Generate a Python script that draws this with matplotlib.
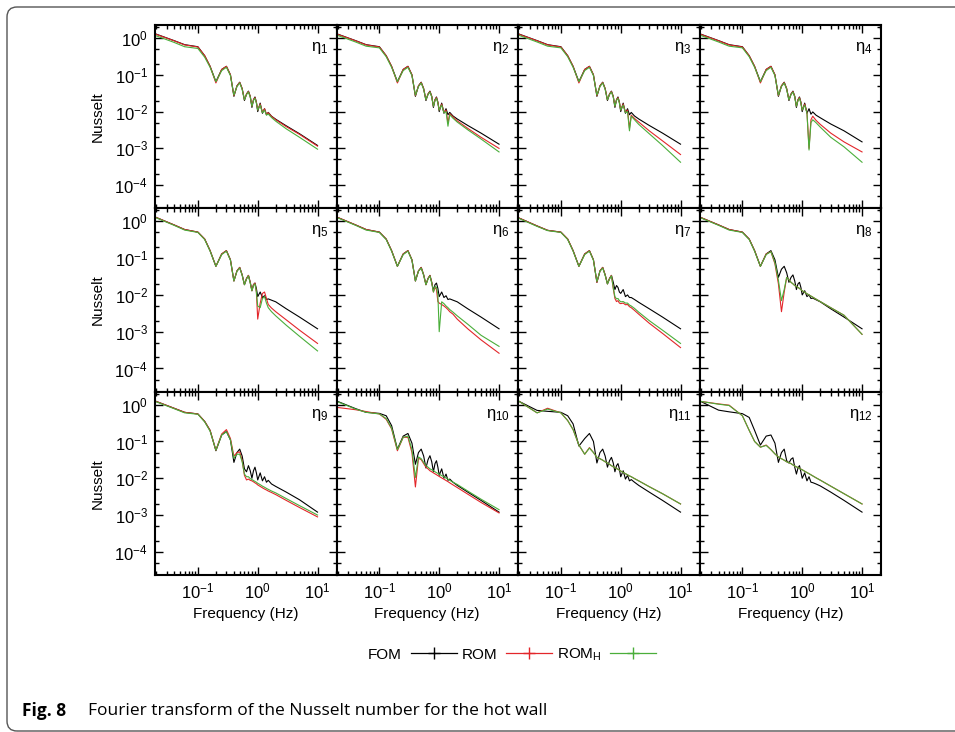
import numpy as np
import matplotlib.pyplot as plt
from matplotlib.lines import Line2D
from matplotlib.patches import FancyBboxPatch
from matplotlib.ticker import LogLocator, NullFormatter
import matplotlib.transforms as mtransforms

plt.rcParams['font.family'] = ['Liberation Sans', 'DejaVu Sans']
plt.rcParams['mathtext.fontset'] = 'custom'
plt.rcParams['mathtext.rm'] = 'Liberation Sans'
plt.rcParams['mathtext.it'] = 'Liberation Sans:italic'
plt.rcParams['axes.unicode_minus'] = False

# frequency grid (Hz) shared by every curve
freq = [0.02, 0.04, 0.06, 0.1, 0.13, 0.16, 0.2, 0.25, 0.3, 0.35, 0.4, 0.45, 0.5, 0.55,
        0.6, 0.65, 0.7, 0.75, 0.8, 0.85, 0.9, 0.95, 1.0, 1.1, 1.2, 1.3, 1.4, 1.5, 1.7,
        2.0, 3.0, 5.0, 10.0]

# row 1
fom_1 = [1.28, 0.85, 0.66, 0.58, 0.33, 0.17, 0.065, 0.14, 0.17, 0.10, 0.026, 0.05, 0.063, 0.042,
         0.02, 0.03, 0.036, 0.026, 0.013, 0.021, 0.025, 0.018, 0.010, 0.017, 0.009, 0.012, 0.0082, 0.0095, 0.0075,
         0.0062, 0.0041, 0.0025, 0.0012]
rom_1 = [1.26, 0.84, 0.65, 0.57, 0.33, 0.17, 0.06, 0.14, 0.17, 0.10, 0.027, 0.05, 0.062, 0.042,
         0.021, 0.03, 0.035, 0.026, 0.014, 0.021, 0.024, 0.018, 0.011, 0.016, 0.0095, 0.012, 0.0085, 0.0093, 0.0074,
         0.006, 0.0039, 0.0024, 0.00115]
romh_1 = [1.15, 0.76, 0.58, 0.52, 0.30, 0.16, 0.065, 0.13, 0.16, 0.095, 0.028, 0.048, 0.06, 0.04,
          0.021, 0.029, 0.034, 0.025, 0.014, 0.02, 0.023, 0.017, 0.011, 0.015, 0.0093, 0.011, 0.008, 0.0086, 0.0069,
          0.0055, 0.0034, 0.002, 0.00095]

fom_2 = [1.28, 0.85, 0.66, 0.58, 0.33, 0.17, 0.065, 0.14, 0.17, 0.10, 0.026, 0.05, 0.063, 0.042,
         0.02, 0.03, 0.036, 0.026, 0.013, 0.021, 0.025, 0.018, 0.010, 0.017, 0.009, 0.012, 0.0082, 0.0095, 0.0076,
         0.0063, 0.0042, 0.0026, 0.0013]
rom_2 = [1.26, 0.84, 0.65, 0.57, 0.33, 0.17, 0.06, 0.14, 0.17, 0.10, 0.027, 0.05, 0.062, 0.042,
         0.021, 0.03, 0.035, 0.026, 0.014, 0.021, 0.024, 0.018, 0.011, 0.016, 0.0095, 0.011, 0.005, 0.0088, 0.0072,
         0.0056, 0.0035, 0.002, 0.001]
romh_2 = [1.18, 0.78, 0.6, 0.54, 0.31, 0.16, 0.065, 0.13, 0.16, 0.095, 0.028, 0.048, 0.06, 0.04,
          0.021, 0.029, 0.034, 0.025, 0.014, 0.02, 0.023, 0.017, 0.011, 0.015, 0.0093, 0.01, 0.004, 0.0082, 0.0066,
          0.0052, 0.0032, 0.0018, 0.0008]

fom_3 = [1.28, 0.85, 0.66, 0.58, 0.33, 0.17, 0.065, 0.14, 0.17, 0.10, 0.026, 0.05, 0.063, 0.042,
         0.02, 0.03, 0.036, 0.026, 0.013, 0.021, 0.025, 0.018, 0.010, 0.017, 0.009, 0.012, 0.0082, 0.0095, 0.0076,
         0.0063, 0.0042, 0.0026, 0.0013]
rom_3 = [1.26, 0.84, 0.65, 0.57, 0.33, 0.17, 0.06, 0.14, 0.17, 0.10, 0.027, 0.05, 0.062, 0.042,
         0.021, 0.03, 0.035, 0.026, 0.014, 0.021, 0.024, 0.018, 0.011, 0.016, 0.0095, 0.011, 0.0035, 0.008, 0.0065,
         0.0052, 0.003, 0.0016, 0.00068]
romh_3 = [1.18, 0.78, 0.6, 0.54, 0.31, 0.16, 0.065, 0.13, 0.16, 0.095, 0.028, 0.048, 0.06, 0.04,
          0.021, 0.029, 0.034, 0.025, 0.014, 0.02, 0.023, 0.017, 0.011, 0.015, 0.0093, 0.01, 0.003, 0.0075, 0.006,
          0.0045, 0.0025, 0.0012, 0.00042]

fom_4 = [1.28, 0.85, 0.66, 0.58, 0.33, 0.17, 0.065, 0.14, 0.17, 0.10, 0.026, 0.05, 0.063, 0.042,
         0.02, 0.03, 0.036, 0.026, 0.013, 0.021, 0.025, 0.018, 0.010, 0.017, 0.009, 0.012, 0.0085, 0.0098, 0.008,
         0.0068, 0.0046, 0.003, 0.0015]
rom_4 = [1.26, 0.84, 0.65, 0.57, 0.33, 0.17, 0.06, 0.14, 0.17, 0.10, 0.027, 0.05, 0.062, 0.042,
         0.021, 0.03, 0.035, 0.026, 0.014, 0.021, 0.024, 0.018, 0.011, 0.016, 0.0095, 0.001, 0.006, 0.0075, 0.0058,
         0.0045, 0.0026, 0.0015, 0.0008]
romh_4 = [1.18, 0.78, 0.6, 0.54, 0.31, 0.16, 0.065, 0.13, 0.16, 0.095, 0.028, 0.048, 0.06, 0.04,
          0.021, 0.029, 0.034, 0.025, 0.014, 0.02, 0.023, 0.017, 0.011, 0.015, 0.0093, 0.0009, 0.005, 0.006, 0.005,
          0.0038, 0.002, 0.0011, 0.00042]

# row 2
fom_5 = [1.28, 0.8, 0.6, 0.51, 0.33, 0.16, 0.06, 0.13, 0.16, 0.09, 0.024, 0.045, 0.056, 0.035,
         0.019, 0.028, 0.034, 0.022, 0.013, 0.019, 0.021, 0.015, 0.009, 0.012, 0.0085, 0.0095, 0.0075, 0.0078, 0.0072,
         0.0065, 0.0042, 0.0025, 0.0012]
rom_5 = [1.28, 0.8, 0.6, 0.51, 0.33, 0.16, 0.06, 0.13, 0.16, 0.09, 0.024, 0.045, 0.056, 0.035,
         0.019, 0.028, 0.034, 0.022, 0.013, 0.019, 0.021, 0.012, 0.0022, 0.006, 0.011, 0.012, 0.008, 0.0055, 0.0044,
         0.0035, 0.0021, 0.0011, 0.00048]
romh_5 = [1.25, 0.78, 0.58, 0.5, 0.32, 0.155, 0.06, 0.125, 0.155, 0.088, 0.024, 0.044, 0.054, 0.034,
          0.019, 0.027, 0.033, 0.021, 0.013, 0.018, 0.02, 0.012, 0.005, 0.0045, 0.008, 0.009, 0.006, 0.0045, 0.0035,
          0.0027, 0.0015, 0.00075, 0.0003]

fom_6 = [1.28, 0.8, 0.6, 0.51, 0.33, 0.16, 0.06, 0.13, 0.16, 0.09, 0.024, 0.045, 0.056, 0.035,
         0.019, 0.028, 0.034, 0.022, 0.013, 0.019, 0.021, 0.015, 0.009, 0.012, 0.0085, 0.0095, 0.0075, 0.0078, 0.0072,
         0.0065, 0.0042, 0.0025, 0.0012]
rom_6 = [1.28, 0.8, 0.6, 0.51, 0.33, 0.16, 0.06, 0.13, 0.16, 0.09, 0.024, 0.045, 0.056, 0.035,
         0.019, 0.028, 0.034, 0.022, 0.012, 0.016, 0.014, 0.0066, 0.006, 0.0055, 0.005, 0.0045, 0.004, 0.0035, 0.003,
         0.0022, 0.0012, 0.0006, 0.00026]
romh_6 = [1.25, 0.78, 0.58, 0.5, 0.32, 0.155, 0.06, 0.125, 0.155, 0.088, 0.024, 0.044, 0.054, 0.034,
          0.019, 0.027, 0.033, 0.021, 0.012, 0.017, 0.016, 0.01, 0.001, 0.0065, 0.0058, 0.005, 0.0045, 0.004, 0.0034,
          0.0027, 0.0016, 0.0008, 0.0004]

fom_7 = [1.23, 0.75, 0.57, 0.51, 0.33, 0.16, 0.06, 0.13, 0.16, 0.09, 0.022, 0.045, 0.056, 0.035,
         0.02, 0.028, 0.034, 0.022, 0.014, 0.018, 0.016, 0.012, 0.011, 0.014, 0.009, 0.01, 0.0085, 0.0085, 0.0075,
         0.0063, 0.0042, 0.0025, 0.0012]
rom_7 = [1.23, 0.75, 0.57, 0.51, 0.33, 0.16, 0.06, 0.13, 0.16, 0.09, 0.022, 0.045, 0.056, 0.035,
         0.02, 0.028, 0.034, 0.015, 0.008, 0.0066, 0.007, 0.006, 0.0058, 0.006, 0.0054, 0.0055, 0.0048, 0.0045, 0.0038,
         0.003, 0.0017, 0.0009, 0.00037]
romh_7 = [1.2, 0.73, 0.56, 0.5, 0.32, 0.155, 0.06, 0.125, 0.155, 0.088, 0.023, 0.044, 0.054, 0.034,
          0.02, 0.027, 0.033, 0.016, 0.009, 0.0078, 0.008, 0.007, 0.0065, 0.0066, 0.006, 0.006, 0.0053, 0.005, 0.0043,
          0.0034, 0.002, 0.0011, 0.00048]

fom_8 = [1.28, 0.8, 0.6, 0.51, 0.33, 0.16, 0.06, 0.13, 0.16, 0.09, 0.03, 0.05, 0.06, 0.04,
         0.022, 0.03, 0.035, 0.024, 0.014, 0.02, 0.022, 0.016, 0.01, 0.013, 0.009, 0.01, 0.008, 0.0082, 0.0074,
         0.0065, 0.0042, 0.0025, 0.0012]
rom_8 = [1.28, 0.8, 0.6, 0.51, 0.33, 0.16, 0.06, 0.13, 0.15, 0.07, 0.02, 0.0035, 0.012, 0.03,
         0.026, 0.022, 0.02, 0.018, 0.017, 0.016, 0.015, 0.014, 0.013, 0.0118, 0.0108, 0.01, 0.0093, 0.0087, 0.0077,
         0.0066, 0.0045, 0.0028, 0.00085]
romh_8 = [1.25, 0.78, 0.58, 0.5, 0.32, 0.155, 0.06, 0.125, 0.15, 0.075, 0.025, 0.007, 0.014, 0.03,
          0.026, 0.022, 0.02, 0.018, 0.017, 0.016, 0.015, 0.014, 0.013, 0.0118, 0.0108, 0.01, 0.0093, 0.0087, 0.0077,
          0.0066, 0.0045, 0.0028, 0.00085]

# row 3
fom_9 = [1.23, 0.8, 0.62, 0.56, 0.35, 0.2, 0.056, 0.15, 0.187, 0.11, 0.027, 0.05, 0.062, 0.04,
         0.018, 0.015, 0.022, 0.016, 0.01, 0.016, 0.02, 0.014, 0.009, 0.014, 0.0085, 0.011, 0.0078, 0.0088, 0.007,
         0.006, 0.0042, 0.0026, 0.0012]
rom_9 = [1.23, 0.8, 0.62, 0.56, 0.35, 0.2, 0.058, 0.16, 0.21, 0.12, 0.04, 0.05, 0.052, 0.03,
         0.012, 0.009, 0.0095, 0.0088, 0.0085, 0.008, 0.0075, 0.0071, 0.0066, 0.006, 0.0055, 0.0051, 0.0048, 0.0045, 0.0041,
         0.0036, 0.0025, 0.0016, 0.00089]
romh_9 = [1.2, 0.78, 0.6, 0.55, 0.34, 0.19, 0.058, 0.15, 0.185, 0.11, 0.035, 0.045, 0.045, 0.028,
          0.013, 0.011, 0.011, 0.0098, 0.0092, 0.0087, 0.0082, 0.0078, 0.0073, 0.0067, 0.0061, 0.0057, 0.0053, 0.005, 0.0045,
          0.004, 0.0028, 0.0018, 0.001]

fom_10 = [1.23, 0.78, 0.62, 0.58, 0.5, 0.27, 0.062, 0.14, 0.165, 0.09, 0.024, 0.05, 0.062, 0.04,
          0.019, 0.032, 0.041, 0.028, 0.015, 0.025, 0.03, 0.02, 0.012, 0.018, 0.01, 0.013, 0.0088, 0.0095, 0.0078,
          0.0064, 0.0042, 0.0025, 0.0012]
rom_10 = [0.84, 0.73, 0.65, 0.56, 0.4, 0.22, 0.056, 0.13, 0.13, 0.05, 0.0058, 0.035, 0.032, 0.025,
          0.02, 0.018, 0.016, 0.015, 0.014, 0.0132, 0.0125, 0.0118, 0.0112, 0.0102, 0.0094, 0.0087, 0.0081, 0.0075, 0.0066,
          0.0056, 0.0037, 0.0022, 0.00114]
romh_10 = [1.2, 0.76, 0.62, 0.56, 0.42, 0.23, 0.06, 0.13, 0.14, 0.06, 0.0105, 0.038, 0.034, 0.027,
           0.022, 0.02, 0.018, 0.017, 0.016, 0.015, 0.0142, 0.0135, 0.013, 0.0118, 0.011, 0.0101, 0.0095, 0.0088, 0.0078,
           0.0068, 0.0045, 0.0027, 0.0014]

fom_11 = [1.23, 0.7, 0.66, 0.62, 0.5, 0.3, 0.075, 0.12, 0.165, 0.1, 0.026, 0.05, 0.062, 0.04,
          0.02, 0.03, 0.037, 0.026, 0.015, 0.022, 0.025, 0.018, 0.011, 0.016, 0.0095, 0.012, 0.0085, 0.0092, 0.0078,
          0.0064, 0.0042, 0.0025, 0.0012]
rom_11 = [1.23, 0.6, 0.8, 0.6, 0.37, 0.21, 0.08, 0.045, 0.068, 0.05, 0.037, 0.034, 0.031, 0.028,
          0.026, 0.024, 0.022, 0.0205, 0.0195, 0.0185, 0.0175, 0.0166, 0.0157, 0.0144, 0.0133, 0.0124, 0.0116, 0.011, 0.0098,
          0.0085, 0.0059, 0.0038, 0.002]
romh_11 = [1.23, 0.6, 0.76, 0.6, 0.37, 0.21, 0.08, 0.045, 0.066, 0.05, 0.037, 0.034, 0.031, 0.028,
           0.026, 0.024, 0.022, 0.0205, 0.0195, 0.0185, 0.0175, 0.0166, 0.0157, 0.0144, 0.0133, 0.0124, 0.0116, 0.011, 0.0098,
           0.0085, 0.0059, 0.0038, 0.002]

fom_12 = [1.23, 0.71, 0.64, 0.57, 0.45, 0.2, 0.08, 0.14, 0.15, 0.09, 0.027, 0.05, 0.062, 0.03,
          0.026, 0.033, 0.036, 0.02, 0.013, 0.019, 0.022, 0.015, 0.01, 0.014, 0.0085, 0.011, 0.0078, 0.0076, 0.007,
          0.0062, 0.0042, 0.0025, 0.0012]
rom_12 = [1.23, 1.05, 0.97, 0.5, 0.2, 0.1, 0.07, 0.08, 0.06, 0.046, 0.038, 0.034, 0.031, 0.028,
          0.0265, 0.025, 0.023, 0.0215, 0.0205, 0.0195, 0.0185, 0.0177, 0.017, 0.0155, 0.0143, 0.0133, 0.0124, 0.0116, 0.0103,
          0.0089, 0.0061, 0.0038, 0.002]
romh_12 = [1.23, 1.03, 0.95, 0.5, 0.2, 0.1, 0.07, 0.078, 0.06, 0.046, 0.038, 0.034, 0.031, 0.028,
           0.0265, 0.025, 0.023, 0.0215, 0.0205, 0.0195, 0.0185, 0.0177, 0.017, 0.0155, 0.0143, 0.0133, 0.0124, 0.0116, 0.0103,
           0.0089, 0.0061, 0.0038, 0.002]

panels = [(fom_1, rom_1, romh_1), (fom_2, rom_2, romh_2), (fom_3, rom_3, romh_3), (fom_4, rom_4, romh_4),
          (fom_5, rom_5, romh_5), (fom_6, rom_6, romh_6), (fom_7, rom_7, romh_7), (fom_8, rom_8, romh_8),
          (fom_9, rom_9, romh_9), (fom_10, rom_10, romh_10), (fom_11, rom_11, romh_11), (fom_12, rom_12, romh_12)]

c_fom, c_rom, c_romh = 'black', '#e3262a', '#4aae3a'

W, H = 955, 732
fig, axes = plt.subplots(3, 4, figsize=(W / 100, H / 100), dpi=100, sharex=True, sharey=True)
fig.subplots_adjust(left=155 / W, right=881 / W, top=1 - 25 / H, bottom=1 - 575 / H, wspace=0, hspace=0)

for k, ax in enumerate(axes.flat):
    fo, ro, rh = panels[k]
    ax.plot(freq, fo, color=c_fom, lw=0.8)
    ax.plot(freq, ro, color=c_rom, lw=0.8)
    ax.plot(freq, rh, color=c_romh, lw=0.8)
    ax.set_xscale('log')
    ax.set_yscale('log')
    ax.set_xlim(10 ** -1.717, 10 ** 1.317)
    ax.set_ylim(10 ** -4.63, 10 ** 0.354)
    ax.xaxis.set_major_locator(LogLocator(base=10))
    ax.xaxis.set_minor_locator(LogLocator(base=10, subs=np.arange(2, 10)))
    ax.xaxis.set_minor_formatter(NullFormatter())
    ax.yaxis.set_major_locator(LogLocator(base=10))
    ax.yaxis.set_minor_locator(LogLocator(base=10, subs=(2.0, 5.0)))
    ax.yaxis.set_minor_formatter(NullFormatter())
    ax.tick_params(which='both', direction='in', top=True, right=True, labelsize=12, width=1)
    ax.tick_params(which='major', length=6, pad=5)
    ax.tick_params(which='minor', length=3)
    for s in ax.spines.values():
        s.set_linewidth(1.5)
    ax.text(0.955, 0.875, r'η$_{%d}$' % (k + 1), transform=ax.transAxes,
            ha='right', va='center', fontsize=12)
    if k % 4 == 0:
        ax.set_ylabel('Nusselt', fontsize=11, labelpad=7)
    if k >= 8:
        ax.set_xlabel('Frequency (Hz)', fontsize=11, labelpad=4)

handles = [Line2D([], [], color=c, lw=0.9, marker='+', markersize=8) for c in (c_fom, c_rom, c_romh)]
fig.legend(handles, ['FOM', 'ROM', r'ROM$_{\mathregular{H}}$'], loc='center', bbox_to_anchor=(512 / W, 1 - 655 / H),
           ncol=3, frameon=False, markerfirst=False, numpoints=1, handlelength=3.0,
           handletextpad=0.6, columnspacing=0.3, fontsize=11)

# rounded caption frame
frame = FancyBboxPatch((7, 1), 1000, 724, boxstyle='round,pad=0,rounding_size=10',
                       transform=mtransforms.IdentityTransform(), fill=False, ec='#555555', lw=1)
fig.add_artist(frame)

fig.text(22 / W, 1 - 711 / H, 'Fig. 8', fontsize=12.5, fontweight='bold', family='Open Sans', va='center')
fig.text(88 / W, 1 - 711 / H, 'Fourier transform of the Nusselt number for the hot wall',
         fontsize=12.5, family='Open Sans', va='center')

fig.savefig('out.png', dpi=100)
